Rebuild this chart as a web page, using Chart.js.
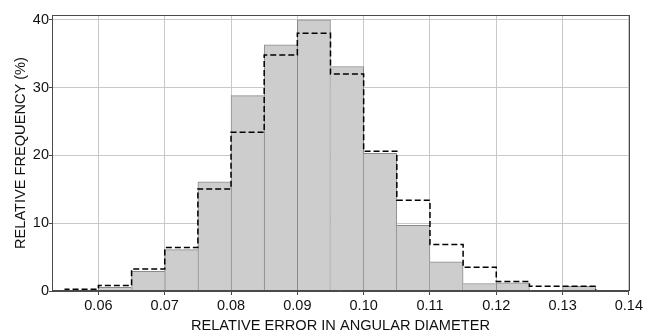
<!DOCTYPE html>
<html>
<head>
<meta charset="utf-8">
<script src="https://cdn.jsdelivr.net/npm/chart.js@4/dist/chart.umd.min.js"></script>
<style>
  html, body { margin: 0; padding: 0; background: #fff; }
  #wrap { width: 645px; height: 333px; position: relative; }
</style>
</head>
<body>
<div id="wrap"><canvas id="c"></canvas></div>
<script>
// Histogram bin edges (relative error in angular diameter)
const binEdges = [0.055, 0.060, 0.065, 0.070, 0.075, 0.080, 0.085, 0.090, 0.095,
                  0.100, 0.105, 0.110, 0.115, 0.120, 0.125, 0.130, 0.135];
// Grey filled histogram (%)
const greyValues = [0, 0.55, 2.9, 6.1, 16.1, 28.8, 36.3, 40.0, 33.1,
                    20.3, 9.7, 4.3, 1.1, 1.2, 0, 0.7];
// Dashed histogram outline (%)
const dashedValues = [0.25, 0.8, 3.25, 6.4, 15.05, 23.4, 34.8, 38.0, 32.0,
                      20.6, 13.4, 6.85, 3.5, 1.4, 0.7, 0.7];
// Tick labels
const xTicks = [0.06, 0.07, 0.08, 0.09, 0.10, 0.11, 0.12, 0.13, 0.14];
const yTicks = [0, 10, 20, 30, 40];

const barData = greyValues.map((v, i) => ({ x: (binEdges[i] + binEdges[i + 1]) / 2, y: v }));
const stepData = [{ x: binEdges[0], y: 0 }]
  .concat(dashedValues.map((v, i) => ({ x: binEdges[i], y: v })))
  .concat([{ x: binEdges[binEdges.length - 1], y: 0 }]);

const frameColor = '#4a4a4a';
const gridColor = '#c8c8c8';
const fontFamily = '"Liberation Sans", Arial, sans-serif';

const framePlugin = {
  id: 'frame',
  afterDatasetsDraw(chart) {
    const { ctx, chartArea: a } = chart;
    ctx.save();
    ctx.strokeStyle = frameColor;
    ctx.lineWidth = 1;
    ctx.strokeRect(Math.round(a.left) + 0.5, Math.round(a.top) + 0.5,
                   Math.round(a.right - a.left), Math.round(a.bottom - a.top) - 1);
    ctx.restore();
  }
};

new Chart(document.getElementById('c'), {
  data: {
    datasets: [
      {
        type: 'line',
        data: stepData,
        stepped: 'before',
        borderColor: '#000000',
        borderWidth: 1.5,
        borderDash: [6, 3],
        pointRadius: 0,
        fill: false,
        order: 0
      },
      {
        type: 'bar',
        data: barData,
        backgroundColor: '#cdcdcd',
        borderColor: '#8a8a8a',
        borderSkipped: 'start',
        borderWidth: (ctx) => {
          const i = ctx.dataIndex;
          const v = greyValues[i];
          const prev = i > 0 ? greyValues[i - 1] : -1;
          const next = i < greyValues.length - 1 ? greyValues[i + 1] : -1;
          if (!v) return 0;
          return { top: 1, left: v >= prev ? 1 : 0, right: v > next ? 1 : 0, bottom: 0 };
        },
        barPercentage: 1.0,
        categoryPercentage: 1.0,
        order: 1
      }
    ]
  },
  options: {
    responsive: true,
    maintainAspectRatio: false,
    animation: false,
    layout: { padding: { top: 15, right: 13, left: 0, bottom: 0 } },
    plugins: { legend: { display: false }, tooltip: { enabled: false } },
    scales: {
      x: {
        type: 'linear',
        offset: false,
        min: 0.053,
        max: 0.14,
        afterBuildTicks: (s) => { s.ticks = xTicks.map(v => ({ value: v })); },
        afterFit: (s) => { s.height = 42; },
        ticks: {
          autoSkip: false,
          maxRotation: 0,
          color: '#111',
          font: { family: fontFamily, size: 14.5 },
          padding: 2,
          callback: (v) => v.toFixed(2)
        },
        grid: { offset: false, color: gridColor, tickColor: frameColor, tickLength: 4, drawTicks: true },
        border: { color: frameColor, width: 1 },
        title: {
          display: true,
          text: 'RELATIVE ERROR IN ANGULAR DIAMETER',
          color: '#111',
          font: { family: fontFamily, size: 14.6, lineHeight: 1 },
          padding: { top: 0, bottom: 0 }
        }
      },
      y: {
        type: 'linear',
        min: 0,
        max: 40.7,
        afterBuildTicks: (s) => { s.ticks = yTicks.map(v => ({ value: v })); },
        afterFit: (s) => { s.width = 52; },
        ticks: {
          color: '#111',
          font: { family: fontFamily, size: 14.5 },
          padding: 0,
          callback: (v) => String(v)
        },
        grid: { color: gridColor, tickColor: frameColor, tickLength: 3 },
        border: { color: frameColor, width: 1 },
        title: {
          display: true,
          text: 'RELATIVE FREQUENCY (%)',
          color: '#111',
          font: { family: fontFamily, size: 14.6, lineHeight: 1.2 },
          padding: { top: 12, bottom: 0 }
        }
      }
    }
  },
  plugins: [framePlugin]
});
</script>
</body>
</html>
